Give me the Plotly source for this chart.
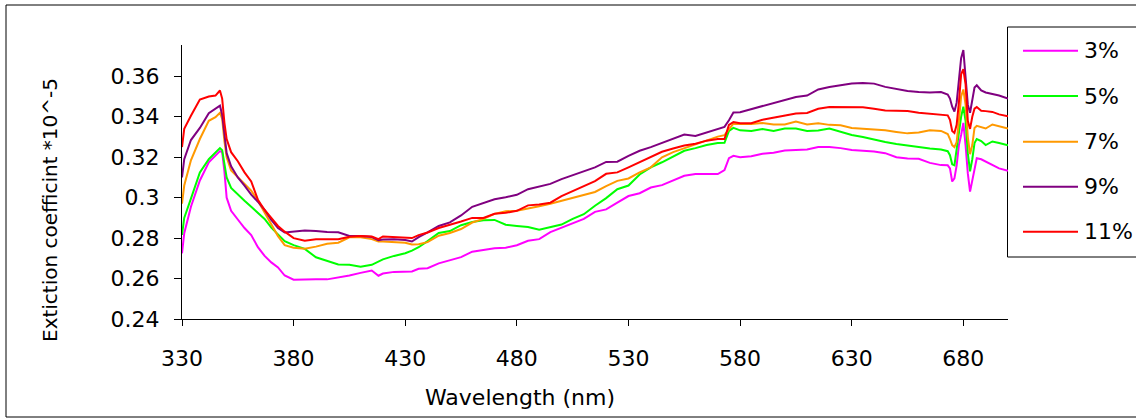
import plotly.graph_objects as go

# ---------------- data ----------------
wavelength = [330, 331, 334, 338, 342, 345, 347, 348, 349, 350,
              352, 355, 358, 361, 364, 367, 370, 373, 376, 380,
              385, 390, 395, 400, 405, 410, 415, 418, 420, 425,
              430, 433, 436, 440, 445, 450, 455, 460, 465, 470,
              475, 480, 485, 490, 495, 500, 505, 510, 515, 520,
              525, 530, 535, 540, 545, 550, 555, 560, 565, 570,
              573, 575, 577, 580, 585, 590, 595, 600, 605, 610,
              615, 620, 625, 630, 635, 640, 645, 650, 655, 660,
              665, 670, 673, 674, 675, 676, 677, 678, 679, 680,
              681, 682, 683, 684, 685, 686, 688, 690, 693, 696,
              700]

ext_3 = [0.2725, 0.2824, 0.2955, 0.3085, 0.3175, 0.3207, 0.3230, 0.3225, 0.3130, 0.3000,
         0.2935, 0.2892, 0.2850, 0.2815, 0.2755, 0.2712, 0.2680, 0.2655, 0.2615, 0.2594,
         0.2597, 0.2597, 0.2596, 0.2605, 0.2615, 0.2628, 0.2640, 0.2614, 0.2625, 0.2633,
         0.2635, 0.2635, 0.2648, 0.2651, 0.2675, 0.2690, 0.2706, 0.2733, 0.2740, 0.2750,
         0.2752, 0.2765, 0.2787, 0.2795, 0.2830, 0.2852, 0.2872, 0.2895, 0.2930, 0.2942,
         0.2975, 0.3008, 0.3022, 0.3050, 0.3062, 0.3085, 0.3108, 0.3117, 0.3117, 0.3117,
         0.3136, 0.3195, 0.3207, 0.3200, 0.3205, 0.3217, 0.3222, 0.3233, 0.3236, 0.3238,
         0.3251, 0.3251, 0.3245, 0.3236, 0.3232, 0.3228, 0.3220, 0.3200, 0.3194, 0.3192,
         0.3172, 0.3161, 0.3160, 0.3145, 0.3080, 0.3095, 0.3160, 0.3260, 0.3310, 0.3370,
         0.3260, 0.3120, 0.3030, 0.3080, 0.3145, 0.3195, 0.3190, 0.3178, 0.3161, 0.3145,
         0.3133]

ext_5 = [0.2816, 0.2900, 0.2995, 0.3125, 0.3190, 0.3222, 0.3245, 0.3235, 0.3175, 0.3100,
         0.3048, 0.3015, 0.2985, 0.2955, 0.2925, 0.2895, 0.2852, 0.2818, 0.2785, 0.2765,
         0.2747, 0.2705, 0.2688, 0.2670, 0.2668, 0.2658, 0.2668, 0.2685, 0.2695, 0.2712,
         0.2725, 0.2738, 0.2755, 0.2785, 0.2825, 0.2835, 0.2864, 0.2880, 0.2888, 0.2890,
         0.2866, 0.2860, 0.2855, 0.2841, 0.2855, 0.2867, 0.2895, 0.2918, 0.2960, 0.2998,
         0.3042, 0.3060, 0.3115, 0.3150, 0.3175, 0.3205, 0.3232, 0.3245, 0.3260, 0.3270,
         0.3271, 0.3330, 0.3345, 0.3333, 0.3330, 0.3340, 0.3330, 0.3342, 0.3342, 0.3330,
         0.3332, 0.3342, 0.3325, 0.3310, 0.3300, 0.3287, 0.3275, 0.3265, 0.3257, 0.3250,
         0.3243, 0.3238, 0.3230, 0.3210, 0.3165, 0.3160, 0.3240, 0.3340, 0.3400, 0.3450,
         0.3380, 0.3220, 0.3130, 0.3190, 0.3270, 0.3290, 0.3280, 0.3260, 0.3278, 0.3270,
         0.3259]

ext_7 = [0.2970, 0.3060, 0.3185, 0.3290, 0.3380, 0.3398, 0.3420, 0.3390, 0.3280, 0.3200,
         0.3135, 0.3100, 0.3070, 0.3035, 0.2985, 0.2925, 0.2865, 0.2810, 0.2765, 0.2752,
         0.2748, 0.2758, 0.2772, 0.2777, 0.2804, 0.2804, 0.2795, 0.2783, 0.2783, 0.2781,
         0.2777, 0.2768, 0.2770, 0.2780, 0.2812, 0.2825, 0.2845, 0.2877, 0.2895, 0.2920,
         0.2933, 0.2935, 0.2945, 0.2958, 0.2970, 0.2985, 0.3000, 0.3012, 0.3028, 0.3057,
         0.3083, 0.3095, 0.3125, 0.3150, 0.3200, 0.3225, 0.3245, 0.3262, 0.3285, 0.3302,
         0.3309, 0.3340, 0.3366, 0.3364, 0.3364, 0.3369, 0.3362, 0.3362, 0.3376, 0.3362,
         0.3368, 0.3360, 0.3358, 0.3345, 0.3342, 0.3337, 0.3333, 0.3325, 0.3318, 0.3322,
         0.3333, 0.3330, 0.3315, 0.3290, 0.3260, 0.3250, 0.3275, 0.3380, 0.3500, 0.3535,
         0.3460, 0.3300, 0.3215, 0.3260, 0.3345, 0.3355, 0.3350, 0.3342, 0.3362, 0.3352,
         0.3342]

ext_9 = [0.3100, 0.3190, 0.3285, 0.3345, 0.3418, 0.3440, 0.3455, 0.3410, 0.3310, 0.3220,
         0.3155, 0.3100, 0.3060, 0.3015, 0.2980, 0.2940, 0.2890, 0.2850, 0.2828, 0.2832,
         0.2838, 0.2835, 0.2830, 0.2829, 0.2811, 0.2811, 0.2805, 0.2790, 0.2793, 0.2794,
         0.2791, 0.2783, 0.2805, 0.2828, 0.2860, 0.2878, 0.2912, 0.2955, 0.2972, 0.2992,
         0.3002, 0.3014, 0.3042, 0.3055, 0.3068, 0.3092, 0.3112, 0.3132, 0.3150, 0.3177,
         0.3178, 0.3207, 0.3232, 0.3250, 0.3271, 0.3290, 0.3312, 0.3305, 0.3322, 0.3340,
         0.3350, 0.3383, 0.3421, 0.3423, 0.3438, 0.3455, 0.3468, 0.3483, 0.3498, 0.3505,
         0.3535, 0.3547, 0.3556, 0.3564, 0.3567, 0.3564, 0.3548, 0.3537, 0.3528, 0.3523,
         0.3520, 0.3522, 0.3510, 0.3490, 0.3450, 0.3426, 0.3470, 0.3580, 0.3690, 0.3730,
         0.3610, 0.3460, 0.3420, 0.3475, 0.3545, 0.3556, 0.3530, 0.3520, 0.3514, 0.3505,
         0.3490]

ext_11 = [0.3250, 0.3340, 0.3405, 0.3485, 0.3500, 0.3505, 0.3530, 0.3490, 0.3370, 0.3290,
          0.3225, 0.3180, 0.3125, 0.3080, 0.2990, 0.2939, 0.2900, 0.2860, 0.2832, 0.2800,
          0.2787, 0.2794, 0.2794, 0.2794, 0.2807, 0.2810, 0.2808, 0.2795, 0.2808, 0.2806,
          0.2803, 0.2800, 0.2815, 0.2828, 0.2850, 0.2865, 0.2882, 0.2900, 0.2900, 0.2920,
          0.2925, 0.2935, 0.2962, 0.2966, 0.2975, 0.3008, 0.3032, 0.3057, 0.3082, 0.3118,
          0.3125, 0.3150, 0.3177, 0.3200, 0.3227, 0.3243, 0.3258, 0.3267, 0.3282, 0.3290,
          0.3290, 0.3360, 0.3374, 0.3368, 0.3368, 0.3385, 0.3396, 0.3405, 0.3416, 0.3419,
          0.3440, 0.3448, 0.3448, 0.3448, 0.3447, 0.3440, 0.3431, 0.3430, 0.3428, 0.3420,
          0.3415, 0.3410, 0.3407, 0.3385, 0.3330, 0.3320, 0.3360, 0.3470, 0.3610, 0.3635,
          0.3560, 0.3380, 0.3340, 0.3400, 0.3440, 0.3448, 0.3430, 0.3428, 0.3424, 0.3412,
          0.3402]

series_names = ["3%", "5%", "7%", "9%", "11%"]
series_colors = ["#FF00FF", "#00FF00", "#FF9900", "#800080", "#FF0000"]
series_values = [ext_3, ext_5, ext_7, ext_9, ext_11]

x_ticks = [330, 380, 430, 480, 530, 580, 630, 680]
y_ticks = [0.24, 0.26, 0.28, 0.30, 0.32, 0.34, 0.36]
y_tick_labels = ["0.24", "0.26", "0.28", "0.3", "0.32", "0.34", "0.36"]

# ---------------- layout geometry (pixels) ----------------
W, H = 1136, 419
PL, PR, PT, PB = 182, 1008, 45, 319   # plot area box


def px_x(p):
    return (p - PL) / (PR - PL)


def px_y(p):
    return (PB - p) / (PB - PT)


FONT = "DejaVu Sans"

fig = go.Figure()
for name, color, vals in zip(series_names, series_colors, series_values):
    fig.add_trace(go.Scatter(x=wavelength, y=vals, mode="lines", name=name,
                             line=dict(color=color, width=2), showlegend=False,
                             hoverinfo="x+y+name"))

shapes = [
    # outer chart border
    dict(type="rect", xref="paper", yref="paper",
         x0=px_x(6), x1=px_x(1145), y0=px_y(417), y1=px_y(5),
         line=dict(color="black", width=1), fillcolor="rgba(0,0,0,0)", layer="below"),
    # legend box
    dict(type="rect", xref="paper", yref="paper",
         x0=px_x(1007.5), x1=px_x(1145), y0=px_y(257), y1=px_y(27),
         line=dict(color="black", width=1), fillcolor="white", layer="below"),
]
annotations = []
legend_rows = [50.7, 96, 141.7, 186.7, 231.7]
for name, color, yp in zip(series_names, series_colors, legend_rows):
    shapes.append(dict(type="line", xref="paper", yref="paper",
                       x0=px_x(1023), x1=px_x(1078), y0=px_y(yp), y1=px_y(yp),
                       line=dict(color=color, width=2)))
    annotations.append(dict(text=name, xref="paper", yref="paper",
                            x=px_x(1082), y=px_y(yp), xanchor="left", yanchor="middle",
                            showarrow=False, font=dict(family=FONT, size=22, color="black")))

annotations.append(dict(text="Wavelength (nm)", xref="paper", yref="paper",
                        x=px_x(520), y=px_y(397), xanchor="center", yanchor="middle",
                        showarrow=False, font=dict(family=FONT, size=22, color="black")))
annotations.append(dict(text="Extiction coefficint *10^-5", xref="paper", yref="paper",
                        x=px_x(50), y=px_y(210), xanchor="center", yanchor="middle",
                        textangle=-90, showarrow=False,
                        font=dict(family=FONT, size=20, color="black")))

fig.update_layout(
    width=W, height=H,
    margin=dict(l=PL, r=W - PR, t=PT, b=H - PB, pad=0),
    paper_bgcolor="white", plot_bgcolor="white",
    font=dict(family=FONT, size=22, color="black"),
    showlegend=False,
    shapes=shapes,
    annotations=annotations,
    xaxis=dict(range=[330, 700], tickvals=x_ticks, ticks="outside", ticklen=6,
               tickcolor="black", tickwidth=1, showline=True, linecolor="black",
               linewidth=1, showgrid=False, zeroline=False, ticklabelstandoff=14,
               tickfont=dict(family=FONT, size=22, color="black"), fixedrange=True),
    yaxis=dict(range=[0.24, 0.3755], tickvals=y_ticks, ticktext=y_tick_labels,
               ticks="outside", ticklen=7, tickcolor="black", tickwidth=1,
               showline=True, linecolor="black", linewidth=1, showgrid=False,
               zeroline=False, ticklabelstandoff=10,
               tickfont=dict(family=FONT, size=22, color="black"), fixedrange=True),
)

fig.write_html("out.html")
